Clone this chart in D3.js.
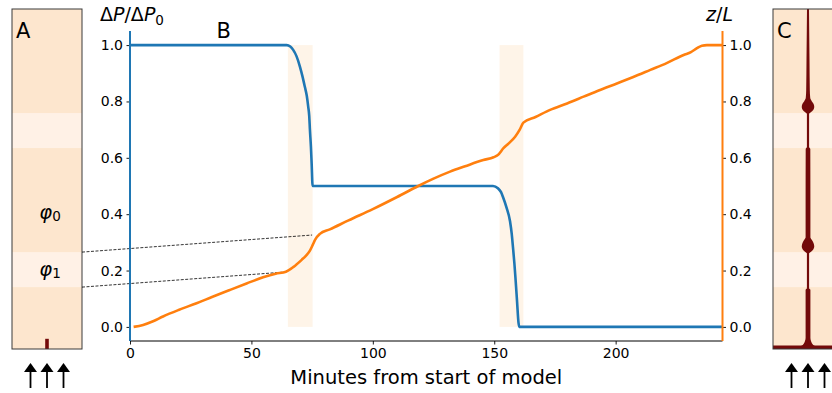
<!DOCTYPE html>
<html><head><meta charset="utf-8">
<script src="https://cdn.jsdelivr.net/npm/d3@7"></script>
<style>body{margin:0;background:#fff}svg{display:block}text{font-family:"DejaVu Sans",sans-serif;fill:#000}</style>
</head><body><svg id="c" width="832" height="393"></svg>
<script>
// ---------------- data ----------------
const xTicks = [0, 50, 100, 150, 200];
const yTicks = [0, 0.2, 0.4, 0.6, 0.8, 1.0];
const xLabel = "Minutes from start of model";

const pressureTime = [0, 64.5, 66, 67.2, 68.6, 70.0, 71.0, 72.0, 72.8, 73.4, 73.8, 74.1, 74.5, 74.8, 75.2,
  149.5, 151.5, 152.8, 153.6, 155.0, 156.5, 157.2, 157.7, 158.3, 158.8, 159.4, 160.0, 160.3, 244];
const pressureRatio = [1, 1, 0.995, 0.983, 0.96, 0.923, 0.89, 0.852, 0.82, 0.781, 0.75, 0.699, 0.64, 0.581, 0.5,
  0.5, 0.492, 0.478, 0.461, 0.425, 0.375, 0.33, 0.284, 0.225, 0.166, 0.09, 0.014, 0, 0];

const depthTime = [1.5, 5.4, 9.5, 13.6, 20, 27.4, 34, 41.1, 48, 54.8, 60, 64.2, 67.2, 70.7, 72.5, 74.1, 75.2, 76.2, 78.2,
  82.3, 90, 100, 110, 118.7, 125, 131.8, 138, 145.5, 149.7, 151.5, 153.8, 156.3, 158.6, 160.5, 162.0, 167, 173, 180,
  186.8, 193, 200.5, 207, 214.3, 221, 228, 231, 233.5, 235.5, 237.6, 244];
const depthRatio = [0, 0.007, 0.02, 0.037, 0.06, 0.084, 0.107, 0.131, 0.154, 0.176, 0.189, 0.196, 0.212, 0.238, 0.253, 0.271, 0.29, 0.309, 0.33,
  0.346, 0.378, 0.418, 0.461, 0.5, 0.526, 0.551, 0.57, 0.592, 0.602, 0.61, 0.634, 0.654, 0.675, 0.7, 0.725, 0.745, 0.77, 0.793,
  0.817, 0.839, 0.864, 0.886, 0.912, 0.936, 0.965, 0.975, 0.989, 0.998, 1.0, 1.0];

const eventStart = [65, 152.2];
const eventEnd = [75.2, 162];

// panel A / C layering (fraction of depth from top)
const lightBandTop = [0.306, 0.715];
const lightBandBottom = [0.409, 0.818];
const phiNames = ["0", "1"];
const phiDepth = [0.6, 0.768];

const connectorDepth = [0.715, 0.818];
const connectorTime = [75.0, 64.2];
const connectorZ = [0.326, 0.195];

const apertureADepth = [0.97, 1.0];
const apertureA = [3.6, 3.6];

const apertureCDepth = [0, 0.062, 0.15, 0.238, 0.262, 0.271, 0.279, 0.288, 0.297, 0.304, 0.309, 0.406, 0.412, 0.562,
  0.671, 0.679, 0.688, 0.699, 0.707, 0.715, 0.719, 0.821, 0.826, 0.968, 0.979, 0.988, 0.994, 1.0];
const apertureC = [2.0, 2.4, 3.0, 3.6, 4.5, 7.5, 11, 12.5, 10.5, 5.5, 2.2, 2.2, 4.6, 4.8,
  4.8, 7.5, 11, 12.5, 10.5, 5.5, 2.2, 2.2, 4.8, 4.8, 6.5, 10.5, 18, 26];

const panelLabels = ["A", "B", "C"];

// ---------------- layout ----------------
const svg = d3.select("#c");
const plot = {left: 130, right: 722.5, top: 31, bottom: 341};
const panelA = {x: 12, w: 70, top: 9, bottom: 349};
const panelC = {x: 773, w: 70, top: 9, bottom: 349};
const blue = "#1f77b4", orange = "#ff7f0e";
const peach = "#fde6ce", peachLight = "#fff1e6", spanCol = "#fef4e8", darkRed = "#730a0a";

const x = d3.scaleLinear().domain([0, 244]).range([plot.left, plot.right]);
const y = d3.scaleLinear().domain([-0.05, 1.05]).range([plot.bottom, plot.top]);
const apScale = d3.scaleLinear().domain([0, 1]).range([0, 1]);

// ---------------- side panels ----------------
function drawPanel(p, apDepth, apVals, label, withPhi) {
  const g = svg.append("g");
  const d = d3.scaleLinear().domain([0, 1]).range([p.top, p.bottom]);
  const cx = p.x + p.w / 2;
  g.append("rect").attr("x", p.x).attr("y", p.top).attr("width", p.w).attr("height", p.bottom - p.top).attr("fill", peach);
  lightBandTop.forEach((t, i) => {
    g.append("rect").attr("x", p.x).attr("y", d(t)).attr("width", p.w)
      .attr("height", d(lightBandBottom[i]) - d(t)).attr("fill", peachLight);
  });
  const pts = apDepth.map((dd, i) => ({d: dd, w: apVals[i]}));
  const area = d3.area().y(q => d(q.d)).x0(q => cx - apScale(q.w) / 2).x1(q => cx + apScale(q.w) / 2)
    .curve(d3.curveMonotoneY);
  g.append("path").attr("d", area(pts)).attr("fill", darkRed);
  if (label === "C") {
    g.append("rect").attr("x", p.x).attr("y", p.bottom - 3.5).attr("width", p.w).attr("height", 3.5).attr("fill", darkRed);
  }
  g.append("rect").attr("x", p.x).attr("y", p.top).attr("width", p.w).attr("height", p.bottom - p.top)
    .attr("fill", "none").attr("stroke", "#3a3a3a").attr("stroke-width", 1);
  g.append("text").attr("x", p.x + 4).attr("y", 38).attr("font-size", 21).text(label);
  if (withPhi) {
    phiNames.forEach((n, i) => {
      const t = g.append("text").attr("x", cx + 3).attr("y", d(phiDepth[i])).attr("text-anchor", "middle")
        .attr("dominant-baseline", "middle").attr("font-size", 19.5);
      t.append("tspan").attr("font-style", "italic").text("φ");
      t.append("tspan").attr("font-size", 13.5).attr("dy", 4).text(n);
    });
  }
  // arrows
  [-16.5, 0, 16.5].forEach(o => {
    const ax = cx + o;
    g.append("line").attr("x1", ax).attr("x2", ax).attr("y1", 371).attr("y2", 388).attr("stroke", "#000").attr("stroke-width", 1.8);
    g.append("path").attr("d", `M${ax - 6.5},372L${ax},363L${ax + 6.5},372Z`).attr("fill", "#000");
  });
  return d;
}
const dA = drawPanel(panelA, apertureADepth, apertureA, "A", true);
drawPanel(panelC, apertureCDepth, apertureC, "C", false);

// ---------------- main plot ----------------
const gm = svg.append("g");
eventStart.forEach((s, i) => {
  gm.append("rect").attr("x", x(s)).attr("y", y(1)).attr("width", x(eventEnd[i]) - x(s))
    .attr("height", y(0) - y(1)).attr("fill", spanCol);
});

// connectors
connectorDepth.forEach((dd, i) => {
  gm.append("line").attr("x1", panelA.x + panelA.w).attr("y1", dA(dd))
    .attr("x2", x(connectorTime[i])).attr("y2", y(connectorZ[i]))
    .attr("stroke", "#000").attr("stroke-width", 0.8).attr("stroke-dasharray", "3,1.5");
});

const line = d3.line().x(d => x(d[0])).y(d => y(d[1])).curve(d3.curveMonotoneX);
gm.append("path").attr("d", line(pressureTime.map((t, i) => [t, pressureRatio[i]])))
  .attr("fill", "none").attr("stroke", blue).attr("stroke-width", 2.6).attr("stroke-linejoin", "round");
gm.append("path").attr("d", line(depthTime.map((t, i) => [t, depthRatio[i]])))
  .attr("fill", "none").attr("stroke", orange).attr("stroke-width", 2.6).attr("stroke-linejoin", "round");

// axes
const fmt = d3.format(".1f");
const axL = gm.append("g").attr("transform", `translate(${plot.left},0)`)
  .call(d3.axisLeft(y).tickValues(yTicks).tickFormat(fmt).tickSize(3.5).tickPadding(3.5));
const axR = gm.append("g").attr("transform", `translate(${plot.right},0)`)
  .call(d3.axisRight(y).tickValues(yTicks).tickFormat(fmt).tickSize(3.5).tickPadding(3.5));
const axB = gm.append("g").attr("transform", `translate(0,${plot.bottom})`)
  .call(d3.axisBottom(x).tickValues(xTicks).tickFormat(d3.format("d")).tickSize(3.5).tickPadding(3.5));
[axL, axR, axB].forEach(a => {
  a.select(".domain").remove();
  a.selectAll("text").attr("font-size", 14).attr("font-family", "DejaVu Sans").attr("fill", "#000");
  a.selectAll("line").attr("stroke", "#000").attr("stroke-width", 0.9);
});
// spines
gm.append("line").attr("x1", plot.left).attr("x2", plot.right).attr("y1", plot.bottom).attr("y2", plot.bottom)
  .attr("stroke", "#000").attr("stroke-width", 1);
gm.append("line").attr("x1", plot.left).attr("x2", plot.left).attr("y1", plot.top).attr("y2", plot.bottom)
  .attr("stroke", blue).attr("stroke-width", 2);
gm.append("line").attr("x1", plot.right).attr("x2", plot.right).attr("y1", plot.top).attr("y2", plot.bottom)
  .attr("stroke", orange).attr("stroke-width", 2);

// labels
gm.append("text").attr("x", (plot.left + plot.right) / 2).attr("y", 384).attr("text-anchor", "middle")
  .attr("font-size", 19.5).text(xLabel);
const yl = gm.append("text").attr("x", 100).attr("y", 21).attr("font-size", 19);
yl.append("tspan").text("Δ");
yl.append("tspan").attr("font-style", "italic").text("P");
yl.append("tspan").text("/Δ");
yl.append("tspan").attr("font-style", "italic").text("P");
yl.append("tspan").attr("font-size", 13.5).attr("dy", 4).text("0");
const yr = gm.append("text").attr("x", 706).attr("y", 21).attr("font-size", 19);
yr.append("tspan").attr("font-style", "italic").text("z");
yr.append("tspan").text("/");
yr.append("tspan").attr("font-style", "italic").text("L");
gm.append("text").attr("x", 216.5).attr("y", 38).attr("font-size", 21).text(panelLabels[1]);
</script></body></html>
